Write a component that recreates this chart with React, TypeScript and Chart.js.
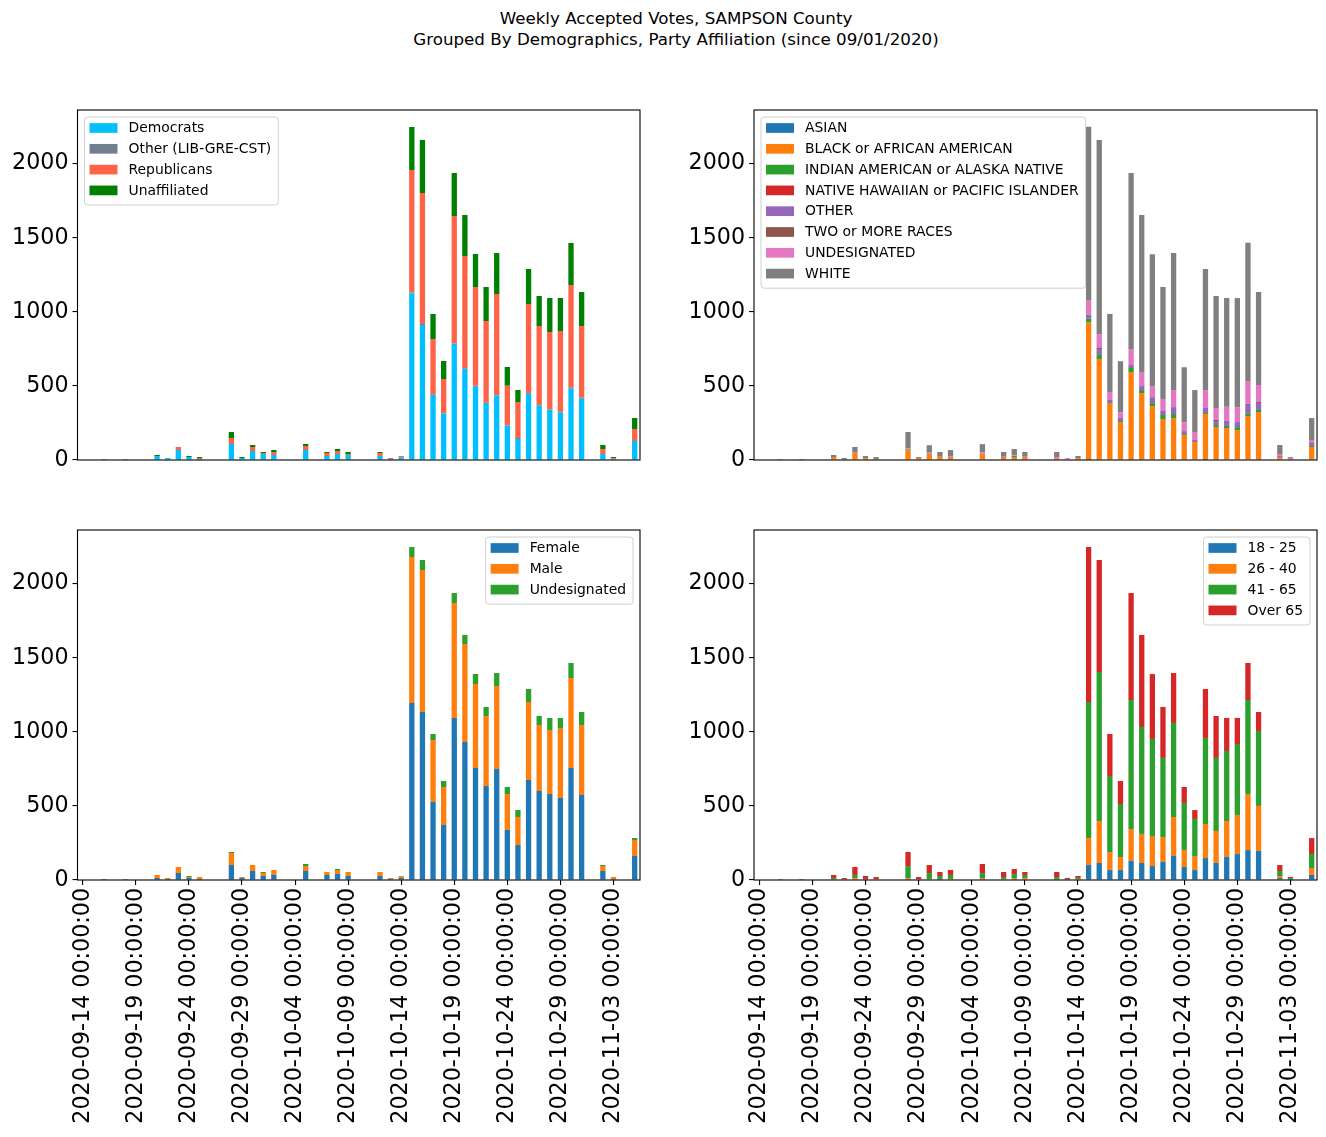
import React, { useEffect, useRef } from 'react';
import { Chart, registerables } from 'chart.js';
Chart.register(...registerables);

const dates = [
  '2020-09-14', '2020-09-15', '2020-09-16', '2020-09-17', '2020-09-18', '2020-09-19', '2020-09-20',
  '2020-09-21', '2020-09-22', '2020-09-23', '2020-09-24', '2020-09-25', '2020-09-26', '2020-09-27',
  '2020-09-28', '2020-09-29', '2020-09-30', '2020-10-01', '2020-10-02', '2020-10-03', '2020-10-04',
  '2020-10-05', '2020-10-06', '2020-10-07', '2020-10-08', '2020-10-09', '2020-10-10', '2020-10-11',
  '2020-10-12', '2020-10-13', '2020-10-14', '2020-10-15', '2020-10-16', '2020-10-17', '2020-10-18',
  '2020-10-19', '2020-10-20', '2020-10-21', '2020-10-22', '2020-10-23', '2020-10-24', '2020-10-25',
  '2020-10-26', '2020-10-27', '2020-10-28', '2020-10-29', '2020-10-30', '2020-10-31', '2020-11-01',
  '2020-11-02', '2020-11-03', '2020-11-04', '2020-11-05',
];

// Party affiliation
const democrats = [0, 0, 7, 0, 7, 0, 0, 27, 13, 67, 20, 7, 0, 0, 108, 13, 61, 40, 34, 0, 0, 67, 0, 27, 40, 34, 0, 0, 27, 7, 18, 1125, 911, 439, 314, 785, 614, 495, 385, 434, 232, 142, 448, 370, 340, 319, 481, 414, 0, 40, 6, 0, 128];
const otherParty = [0, 0, 0, 0, 0, 0, 0, 0, 0, 0, 0, 0, 0, 0, 0, 0, 0, 0, 0, 0, 0, 0, 0, 0, 0, 0, 0, 0, 0, 0, 0, 5, 7, 2, 2, 3, 2, 6, 2, 2, 1, 6, 4, 2, 3, 6, 7, 7, 0, 0, 2, 0, 0];
const republicans = [0, 0, 0, 0, 0, 0, 0, 0, 0, 20, 0, 6, 0, 0, 40, 0, 27, 7, 20, 0, 0, 27, 0, 20, 20, 6, 0, 0, 20, 7, 9, 827, 884, 376, 231, 859, 761, 667, 551, 685, 269, 244, 601, 533, 521, 546, 693, 484, 0, 34, 6, 0, 81];
const unaffiliated = [0, 0, 0, 0, 0, 0, 0, 7, 0, 0, 7, 7, 0, 0, 41, 7, 13, 7, 13, 0, 0, 14, 0, 7, 14, 14, 0, 0, 7, 0, 0, 291, 358, 168, 121, 290, 277, 222, 230, 276, 126, 81, 236, 202, 230, 222, 284, 229, 0, 27, 6, 0, 74];

// Race
const asian = [0, 0, 0, 0, 0, 0, 0, 0, 0, 0, 0, 0, 0, 0, 0, 0, 0, 0, 0, 0, 0, 0, 0, 0, 0, 0, 0, 0, 0, 0, 0, 2, 5, 0, 0, 3, 3, 0, 0, 3, 0, 0, 2, 3, 0, 0, 0, 3, 0, 0, 0, 0, 0];
const black = [0, 0, 7, 0, 0, 0, 0, 20, 4, 47, 13, 7, 0, 0, 67, 13, 40, 27, 20, 0, 0, 40, 0, 20, 20, 20, 0, 0, 13, 5, 13, 925, 677, 385, 256, 591, 449, 364, 277, 280, 169, 121, 308, 220, 216, 202, 297, 321, 0, 20, 7, 0, 88];
const indianAm = [0, 0, 0, 0, 0, 0, 0, 0, 0, 0, 0, 0, 0, 0, 5, 0, 4, 0, 0, 0, 0, 0, 0, 0, 7, 0, 0, 0, 0, 0, 0, 27, 27, 6, 7, 27, 20, 20, 27, 27, 6, 0, 7, 13, 14, 20, 14, 14, 0, 0, 0, 0, 7];
const hawaiian = [0, 0, 0, 0, 0, 0, 0, 0, 0, 0, 0, 0, 0, 0, 0, 0, 0, 0, 0, 0, 0, 0, 0, 0, 0, 0, 0, 0, 0, 0, 0, 0, 0, 0, 0, 0, 0, 0, 0, 0, 0, 0, 0, 0, 0, 0, 0, 0, 0, 0, 0, 0, 0];
const otherRace = [0, 0, 0, 0, 0, 0, 0, 0, 0, 0, 0, 0, 0, 0, 0, 0, 0, 0, 3, 0, 0, 4, 0, 3, 0, 0, 0, 0, 0, 0, 0, 27, 40, 14, 20, 20, 27, 40, 27, 47, 20, 14, 34, 27, 34, 34, 61, 47, 0, 7, 0, 0, 20];
const twoOrMore = [0, 0, 0, 0, 0, 0, 0, 0, 0, 0, 0, 0, 0, 0, 0, 0, 0, 0, 0, 0, 0, 0, 0, 0, 0, 0, 0, 0, 0, 0, 0, 0, 7, 0, 0, 0, 0, 0, 0, 0, 0, 0, 0, 7, 0, 0, 7, 7, 0, 0, 0, 0, 0];
const undesRace = [0, 0, 0, 0, 0, 0, 0, 0, 0, 7, 0, 0, 0, 0, 7, 0, 9, 0, 4, 0, 0, 9, 0, 0, 4, 7, 0, 0, 7, 8, 0, 94, 94, 54, 40, 108, 95, 74, 81, 115, 60, 54, 121, 81, 95, 101, 155, 114, 0, 13, 7, 0, 20];
const white = [0, 0, 0, 0, 7, 0, 0, 14, 9, 34, 14, 13, 0, 0, 110, 7, 47, 27, 40, 0, 0, 54, 0, 31, 43, 27, 0, 0, 34, 0, 14, 1175, 1310, 527, 344, 1188, 1060, 891, 756, 925, 371, 283, 817, 756, 735, 736, 932, 628, 0, 61, 6, 0, 148];

// Gender
const female = [0, 0, 7, 0, 7, 0, 0, 13, 7, 47, 13, 7, 0, 0, 101, 13, 61, 27, 34, 0, 0, 61, 0, 34, 40, 27, 0, 0, 27, 7, 13, 1195, 1134, 526, 371, 1093, 931, 756, 634, 749, 337, 236, 675, 600, 580, 553, 756, 574, 0, 61, 7, 0, 162];
const male = [0, 0, 0, 0, 0, 0, 0, 21, 6, 41, 7, 13, 0, 0, 81, 7, 40, 20, 33, 0, 0, 33, 0, 20, 27, 27, 0, 0, 27, 7, 14, 985, 958, 419, 257, 777, 662, 567, 473, 560, 243, 189, 527, 446, 432, 473, 607, 472, 0, 34, 13, 0, 108];
const undesGender = [0, 0, 0, 0, 0, 0, 0, 0, 0, 0, 7, 0, 0, 0, 7, 0, 0, 7, 0, 0, 0, 14, 0, 0, 7, 0, 0, 0, 0, 0, 0, 68, 68, 40, 40, 67, 61, 67, 61, 88, 48, 47, 87, 61, 81, 67, 102, 88, 0, 6, 0, 0, 13];

// Age
const age18to25 = [0, 0, 0, 0, 0, 0, 0, 0, 0, 0, 0, 0, 0, 0, 7, 0, 0, 7, 0, 0, 0, 7, 0, 0, 7, 4, 0, 0, 7, 7, 0, 101, 115, 67, 67, 128, 115, 94, 121, 162, 88, 67, 148, 115, 155, 175, 202, 196, 0, 13, 2, 0, 34];
const age26to40 = [0, 0, 0, 0, 0, 0, 0, 5, 0, 13, 0, 7, 0, 0, 6, 5, 7, 0, 7, 0, 0, 6, 0, 7, 6, 10, 0, 0, 0, 0, 7, 182, 283, 122, 88, 216, 196, 203, 169, 263, 115, 95, 230, 216, 243, 264, 378, 304, 0, 14, 2, 0, 47];
const age41to65 = [0, 0, 7, 0, 7, 0, 0, 9, 5, 21, 7, 0, 0, 0, 81, 0, 40, 20, 27, 0, 0, 34, 0, 13, 27, 20, 0, 0, 13, 0, 7, 918, 1006, 513, 358, 871, 722, 655, 534, 635, 317, 250, 581, 493, 473, 479, 635, 506, 0, 34, 9, 0, 94];
const ageOver65 = [0, 0, 0, 0, 0, 0, 0, 20, 8, 54, 20, 13, 0, 0, 95, 15, 54, 27, 34, 0, 0, 61, 0, 34, 34, 20, 0, 0, 34, 7, 13, 1046, 756, 284, 155, 722, 621, 438, 344, 337, 108, 60, 330, 283, 223, 176, 250, 128, 0, 40, 7, 0, 108];

const yTicks = [0, 500, 1000, 1500, 2000];
const yMax = 2362.5;

const TAB = ['#1f77b4', '#ff7f0e', '#2ca02c', '#d62728', '#9467bd', '#8c564b', '#e377c2', '#7f7f7f'];

type Series = { label: string; data: number[]; color: string };

const partySeries: Series[] = [
  { label: 'Democrats', data: democrats, color: '#00bfff' },
  { label: 'Other (LIB-GRE-CST)', data: otherParty, color: '#708090' },
  { label: 'Republicans', data: republicans, color: '#ff6347' },
  { label: 'Unaffiliated', data: unaffiliated, color: '#008000' },
];
const raceSeries: Series[] = [
  { label: 'ASIAN', data: asian, color: TAB[0] },
  { label: 'BLACK or AFRICAN AMERICAN', data: black, color: TAB[1] },
  { label: 'INDIAN AMERICAN or ALASKA NATIVE', data: indianAm, color: TAB[2] },
  { label: 'NATIVE HAWAIIAN or PACIFIC ISLANDER', data: hawaiian, color: TAB[3] },
  { label: 'OTHER', data: otherRace, color: TAB[4] },
  { label: 'TWO or MORE RACES', data: twoOrMore, color: TAB[5] },
  { label: 'UNDESIGNATED', data: undesRace, color: TAB[6] },
  { label: 'WHITE', data: white, color: TAB[7] },
];
const genderSeries: Series[] = [
  { label: 'Female', data: female, color: TAB[0] },
  { label: 'Male', data: male, color: TAB[1] },
  { label: 'Undesignated', data: undesGender, color: TAB[2] },
];
const ageSeries: Series[] = [
  { label: '18 - 25', data: age18to25, color: TAB[0] },
  { label: '26 - 40', data: age26to40, color: TAB[1] },
  { label: '41 - 65', data: age41to65, color: TAB[2] },
  { label: 'Over 65', data: ageOver65, color: TAB[3] },
];

const FONT = '"DejaVu Sans", Verdana, sans-serif';
const TICK_SIZE = 22.2;

function roundRectPath(ctx: CanvasRenderingContext2D, x: number, y: number, w: number, h: number, r: number) {
  ctx.beginPath();
  ctx.moveTo(x + r, y);
  ctx.lineTo(x + w - r, y);
  ctx.arcTo(x + w, y, x + w, y + r, r);
  ctx.lineTo(x + w, y + h - r);
  ctx.arcTo(x + w, y + h, x + w - r, y + h, r);
  ctx.lineTo(x + r, y + h);
  ctx.arcTo(x, y + h, x, y + h - r, r);
  ctx.lineTo(x, y + r);
  ctx.arcTo(x, y, x + r, y, r);
  ctx.closePath();
}

type PanelProps = {
  series: Series[];
  left: number;
  top: number;
  width: number;
  height: number;
  yWidth: number;
  showX: boolean;
  corner: 'ul' | 'ur';
};

function Panel({ series, left, top, width, height, yWidth, showX, corner }: PanelProps) {
  const ref = useRef<HTMLCanvasElement | null>(null);
  useEffect(() => {
    if (!ref.current) return;
    const framePlugin = {
      id: 'mplFrame',
      afterDraw(chart: any) {
        const ctx = chart.ctx as CanvasRenderingContext2D;
        const ca = chart.chartArea;
        ctx.save();
        ctx.strokeStyle = '#000';
        ctx.lineWidth = 1.1;
        ctx.strokeRect(ca.left, ca.top, ca.right - ca.left, ca.bottom - ca.top);
        // legend
        ctx.font = `13.9px ${FONT}`;
        const tw = Math.max(...series.map((s) => ctx.measureText(s.label).width));
        const w = 5 + 28 + 11 + tw + 7;
        const rowH = 20.8;
        const h = series.length * rowH + 4.8;
        const x = corner === 'ul' ? ca.left + 7 : ca.right - 7 - w;
        const y = ca.top + 7;
        roundRectPath(ctx, x, y, w, h, 3);
        ctx.fillStyle = 'rgba(255,255,255,0.8)';
        ctx.fill();
        ctx.strokeStyle = '#d0d0d0';
        ctx.lineWidth = 1;
        ctx.stroke();
        series.forEach((s, i) => {
          const cy = y + 11 + i * rowH;
          ctx.fillStyle = s.color;
          ctx.fillRect(x + 5, cy - 4.85, 28, 9.7);
          ctx.fillStyle = '#000';
          ctx.textBaseline = 'middle';
          ctx.textAlign = 'left';
          ctx.fillText(s.label, x + 44, cy + 0.5);
        });
        ctx.restore();
      },
    };

    const chart = new Chart(ref.current, {
      type: 'bar',
      data: {
        labels: dates,
        datasets: series.map((s) => ({
          label: s.label,
          data: s.data,
          backgroundColor: s.color,
          borderWidth: 0,
          barPercentage: 0.5,
          categoryPercentage: 1.0,
        })),
      },
      options: {
        animation: false,
        responsive: false,
        devicePixelRatio: 1,
        events: [],
        layout: { padding: { top: 10, right: 8, left: 0, bottom: showX ? 0 : 10 } },
        plugins: { legend: { display: false }, tooltip: { enabled: false }, title: { display: false } },
        scales: {
          x: {
            stacked: true,
            display: showX,
            offset: true,
            border: { display: false },
            grid: {
              offset: false,
              drawOnChartArea: false,
              drawTicks: true,
              tickLength: 5,
              lineWidth: 1.1,
              tickColor: (c: any) => (c.index % 5 === 0 ? '#000' : 'rgba(0,0,0,0)'),
            },
            ticks: {
              autoSkip: false,
              maxRotation: 90,
              minRotation: 90,
              padding: 3,
              color: '#000',
              font: { family: FONT, size: TICK_SIZE },
              callback: (_v: any, i: number) => (i % 5 === 0 ? `${dates[i]} 00:00:00` : ''),
            },
            afterFit: (s: any) => {
              s.height = showX ? 257 : 0;
              s.paddingLeft = 0;
              s.paddingRight = 0;
            },
          },
          y: {
            stacked: true,
            min: 0,
            max: yMax,
            border: { display: false },
            grid: { drawOnChartArea: false, drawTicks: true, tickLength: 5, tickColor: '#000', lineWidth: 1.1 },
            afterBuildTicks: (s: any) => {
              s.ticks = yTicks.map((v) => ({ value: v }));
            },
            ticks: {
              padding: 4,
              color: '#000',
              font: { family: FONT, size: TICK_SIZE },
              callback: (v: any) => String(v),
            },
            afterFit: (s: any) => {
              s.width = yWidth;
              s.paddingTop = 0;
              s.paddingBottom = 0;
            },
          },
        },
      },
      plugins: [framePlugin],
    } as any);
    return () => chart.destroy();
  }, []);
  return (
    <canvas
      ref={ref}
      width={width}
      height={height}
      style={{ position: 'absolute', left, top, width, height }}
    />
  );
}

export default function App() {
  return (
    <div style={{ position: 'absolute', left: 0, top: 0, width: 1326, height: 1137, background: '#fff', overflow: 'hidden' }}>
      <div
        style={{
          position: 'absolute',
          left: 0,
          top: 8,
          width: 1352,
          textAlign: 'center',
          fontFamily: FONT,
          fontSize: 16.7,
          lineHeight: '21px',
          color: '#000',
        }}
      >
        <div>Weekly Accepted Votes, SAMPSON County</div>
        <div>Grouped By Demographics, Party Affiliation (since 09/01/2020)</div>
      </div>
      <Panel series={partySeries} left={0} top={100} width={648} height={370} yWidth={77.5} showX={false} corner="ul" />
      <Panel series={raceSeries} left={680} top={100} width={645} height={370} yWidth={74} showX={false} corner="ul" />
      <Panel series={genderSeries} left={0} top={520} width={648} height={617} yWidth={77.5} showX={true} corner="ur" />
      <Panel series={ageSeries} left={680} top={520} width={645} height={617} yWidth={74} showX={true} corner="ur" />
    </div>
  );
}
